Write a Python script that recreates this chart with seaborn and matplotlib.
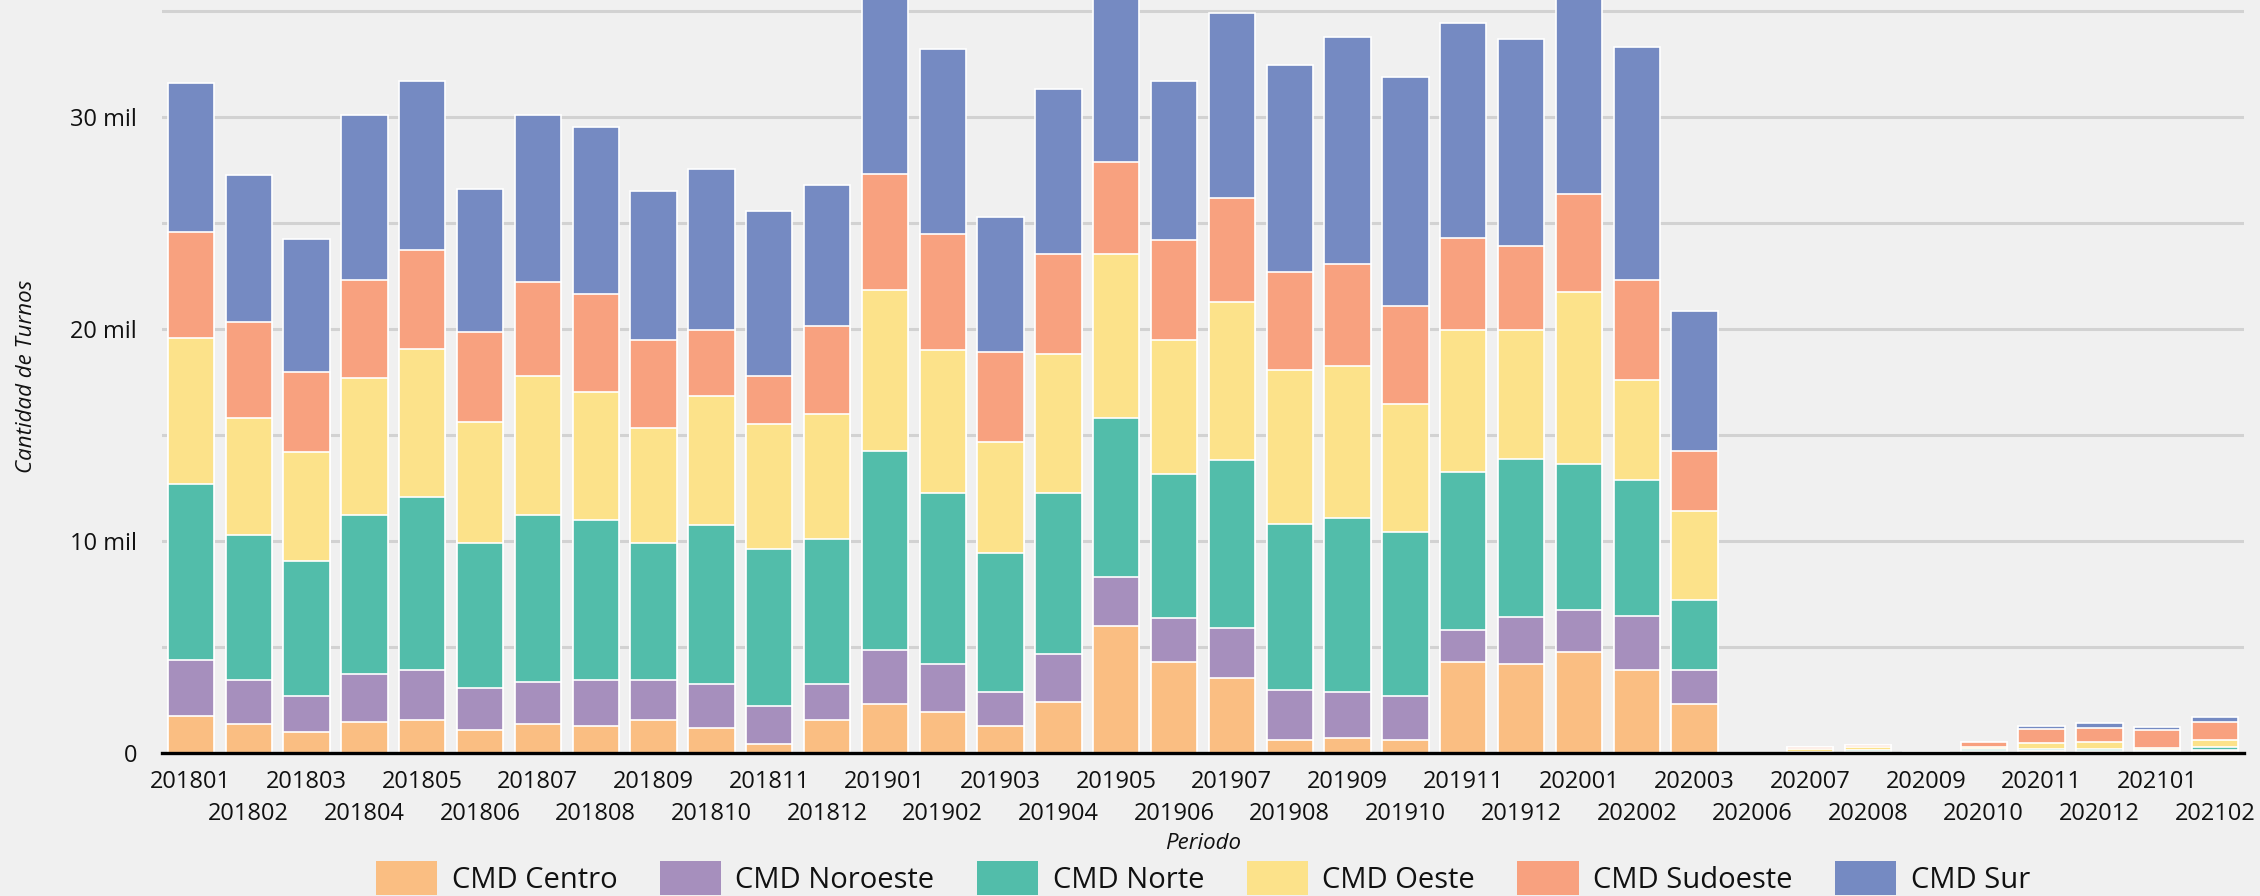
import matplotlib
matplotlib.use("Agg")
import matplotlib.pyplot as plt
import matplotlib.patches as mpatches
import seaborn as sns
import numpy as np
import pandas as pd

periodos = ["201801", "201802", "201803", "201804", "201805", "201806", "201807", "201808",
            "201809", "201810", "201811", "201812", "201901", "201902", "201903", "201904",
            "201905", "201906", "201907", "201908", "201909", "201910", "201911", "201912",
            "202001", "202002", "202003", "202006", "202007", "202008", "202009", "202010",
            "202011", "202012", "202101", "202102"]

centro = [1730, 1350, 980, 1450, 1540, 1070, 1350, 1260, 1540, 1170, 410, 1540, 2300, 1920, 1260, 2390,
          5980, 4270, 3520, 600, 690, 600, 4270, 4180, 4750, 3900, 2300, 0, 20, 60, 10, 50,
          80, 60, 60, 110]
noroeste = [2660, 2080, 1690, 2260, 2360, 1980, 1980, 2170, 1890, 2070, 1790, 1700, 2540, 2260, 1600, 2270,
            2340, 2080, 2360, 2360, 2170, 2070, 1520, 2250, 1970, 2540, 1600, 0, 0, 10, 0, 30,
            30, 20, 20, 30]
norte = [8270, 6870, 6400, 7530, 8190, 6870, 7910, 7540, 6490, 7520, 7420, 6860, 9420, 8090, 6570, 7610,
         7470, 6790, 7920, 7820, 8210, 7730, 7450, 7440, 6890, 6410, 3300, 0, 10, 50, 10, 90,
         90, 90, 60, 130]
oeste = [6900, 5490, 5110, 6430, 6980, 5680, 6520, 6030, 5390, 6070, 5880, 5880, 7560, 6720, 5220, 6530,
         7730, 6330, 7450, 7260, 7170, 6050, 6700, 6070, 8120, 4730, 4230, 0, 170, 170, 0, 130,
         280, 350, 90, 350]
sudoeste = [5000, 4520, 3780, 4630, 4640, 4240, 4440, 4640, 4160, 3110, 2260, 4150, 5480, 5470, 4250, 4720,
            4340, 4710, 4910, 4630, 4810, 4620, 4320, 3960, 4620, 4720, 2830, 0, 100, 100, 50, 240,
            630, 660, 850, 820]
sur = [7040, 6950, 6290, 7790, 7990, 6760, 7890, 7890, 7030, 7610, 7810, 6660, 9200, 8740, 6380, 7800,
       8500, 7520, 8740, 9780, 10720, 10820, 10170, 9780, 10500, 11000, 6590, 0, 0, 0, 0, 0,
       160, 250, 160, 240]

series_names = ["CMD Centro", "CMD Noroeste", "CMD Norte", "CMD Oeste", "CMD Sudoeste", "CMD Sur"]
colors = ["#FABE82", "#A68FBD", "#52BDAA", "#FCE28A", "#F8A17F", "#758AC2"]

df = pd.DataFrame({"Periodo": periodos, "CMD Centro": centro, "CMD Noroeste": noroeste,
                   "CMD Norte": norte, "CMD Oeste": oeste, "CMD Sudoeste": sudoeste, "CMD Sur": sur})
cum = df[series_names].cumsum(axis=1)
for s in series_names:
    df["cum_" + s] = cum[s]

bg = "#F0F0F0"
sns.set_theme(style="white")
plt.rcParams["font.family"] = ["Open Sans", "DejaVu Sans"]

fig = plt.figure(figsize=(22.6, 8.96), dpi=100, facecolor=bg)
ax = fig.add_axes([162 / 2260, 1 - 753 / 896, (2244 - 162) / 2260, 753 / 896])
ax.set_facecolor(bg)

for s, c in reversed(list(zip(series_names, colors))):
    sns.barplot(data=df, x="Periodo", y="cum_" + s, order=periodos, color=c, saturation=1,
                width=0.8, edgecolor="white", linewidth=1.2, errorbar=None, ax=ax, zorder=3)

ax.set_ylim(0, 35500)
ax.set_yticks([0, 10000, 20000, 30000])
ax.set_yticklabels(["0", "10 mil", "20 mil", "30 mil"])
ax.set_yticks([5000, 15000, 25000, 35000], minor=True)
ax.grid(axis="y", which="both", color="#D2D2D2", linewidth=2.2, zorder=0)
ax.set_axisbelow(True)
ax.tick_params(axis="y", which="both", length=0, pad=18, labelsize=17, labelcolor="#111111")

# staggered period labels: even positions on first row (major), odd on second row (minor)
even_idx = list(range(0, len(periodos), 2))
odd_idx = list(range(1, len(periodos), 2))
ax.set_xticks(even_idx)
ax.set_xticklabels([periodos[i] for i in even_idx])
ax.set_xticks(odd_idx, minor=True)
ax.set_xticklabels([periodos[i] for i in odd_idx], minor=True)
ax.tick_params(axis="x", which="major", length=0, pad=12, labelsize=17, labelcolor="#111111")
ax.tick_params(axis="x", which="minor", length=0, pad=35, labelsize=17, labelcolor="#111111")
ax.xaxis.grid(False, which="both")

for side in ["top", "right", "left"]:
    ax.spines[side].set_visible(False)
ax.spines["bottom"].set_color("black")
ax.spines["bottom"].set_linewidth(2.4)
ax.spines["bottom"].set_zorder(5)

ax.set_xlabel("Periodo", fontsize=16, fontstyle="italic", color="#111111", labelpad=5)
ax.set_ylabel("Cantidad de Turnos", fontsize=16, fontstyle="italic", color="#111111")
ax.yaxis.set_label_coords(-0.060, 0.5)

handles = [mpatches.Patch(facecolor=c, edgecolor="none", label=s) for s, c in zip(series_names, colors)]
fig.legend(handles=handles, loc="center", ncol=6, frameon=False,
           bbox_to_anchor=((162 + 2244) / 2 / 2260, 18 / 896), fontsize=21,
           handlelength=2.1, handleheight=1.4, handletextpad=0.5, columnspacing=1.45,
           borderpad=0, labelcolor="#111111")

fig.savefig("out.png", dpi=100, facecolor=bg)
